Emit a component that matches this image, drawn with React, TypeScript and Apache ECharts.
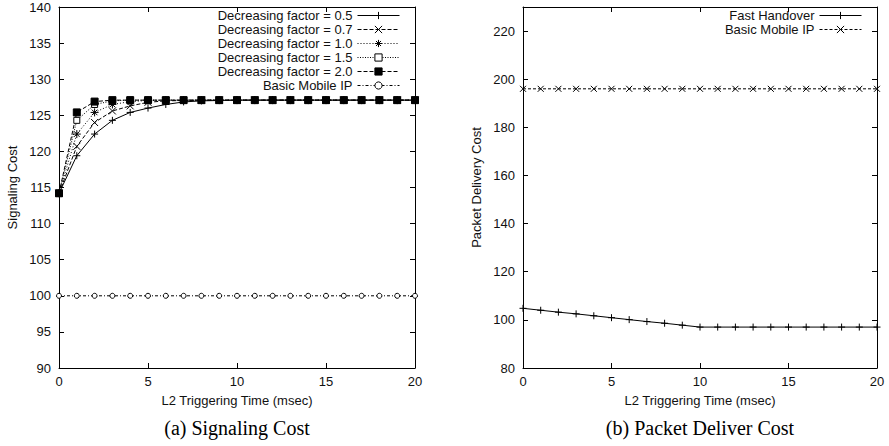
import React, { useEffect, useRef } from "react";
import * as echarts from "echarts";

// ---------- data ----------
const xValues = [0, 1, 2, 3, 4, 5, 6, 7, 8, 9, 10, 11, 12, 13, 14, 15, 16, 17, 18, 19, 20];

const factor05 = [114.2, 119.4, 122.4, 124.3, 125.4, 126.0, 126.5, 126.85, 127.0, 127.05, 127.1, 127.1, 127.1, 127.1, 127.1, 127.1, 127.1, 127.1, 127.1, 127.1, 127.1];
const factor07 = [114.2, 120.7, 124.0, 125.6, 126.3, 126.8, 127.0, 127.05, 127.1, 127.1, 127.1, 127.1, 127.1, 127.1, 127.1, 127.1, 127.1, 127.1, 127.1, 127.1, 127.1];
const factor10 = [114.2, 122.4, 125.4, 126.5, 126.9, 127.05, 127.1, 127.1, 127.1, 127.1, 127.1, 127.1, 127.1, 127.1, 127.1, 127.1, 127.1, 127.1, 127.1, 127.1, 127.1];
const factor15 = [114.2, 124.3, 126.5, 127.0, 127.1, 127.1, 127.1, 127.1, 127.1, 127.1, 127.1, 127.1, 127.1, 127.1, 127.1, 127.1, 127.1, 127.1, 127.1, 127.1, 127.1];
const factor20 = [114.2, 125.4, 126.9, 127.1, 127.1, 127.1, 127.1, 127.1, 127.1, 127.1, 127.1, 127.1, 127.1, 127.1, 127.1, 127.1, 127.1, 127.1, 127.1, 127.1, 127.1];
const basicMobileIpSignaling = [100, 100, 100, 100, 100, 100, 100, 100, 100, 100, 100, 100, 100, 100, 100, 100, 100, 100, 100, 100, 100];

const fastHandover = [104.8, 104.0, 103.2, 102.5, 101.7, 100.9, 100.1, 99.3, 98.6, 97.8, 97.0, 97.0, 97.0, 97.0, 97.0, 97.0, 97.0, 97.0, 97.0, 97.0, 97.0];
const basicMobileIpDelivery = [196, 196, 196, 196, 196, 196, 196, 196, 196, 196, 196, 196, 196, 196, 196, 196, 196, 196, 196, 196, 196];

const leftNames = [
  "Decreasing factor = 0.5",
  "Decreasing factor = 0.7",
  "Decreasing factor = 1.0",
  "Decreasing factor = 1.5",
  "Decreasing factor = 2.0",
  "Basic Mobile IP",
];
const rightNames = ["Fast Handover", "Basic Mobile IP"];

const xLabel = "L2 Triggering Time (msec)";
const leftYLabel = "Signaling Cost";
const rightYLabel = "Packet Delivery Cost";
const captionA = "(a) Signaling Cost";
const captionB = "(b) Packet Deliver Cost";

// ---------- styling ----------
const SANS = "Liberation Sans, Arial, Helvetica, sans-serif";
const SERIF = "Liberation Serif, Times New Roman, serif";
const INK = "#111";
const FS = 13;

const PLUS = "path://M0,5L10,5M5,0L5,10";
const CROSS = "path://M0,0L10,10M10,0L0,10";
const STAR = "path://M0,5L10,5M5,0L5,10M1.5,1.5L8.5,8.5M8.5,1.5L1.5,8.5";

const pairs = (ys: number[]) => xValues.map((x, i) => [x, ys[i]]);

function xAxis(gridIndex: number, position: "bottom" | "top", labels: boolean, name?: string) {
  return {
    type: "value",
    gridIndex,
    position,
    min: 0,
    max: 20,
    interval: 5,
    name,
    nameLocation: "middle",
    nameGap: 26,
    nameTextStyle: { fontFamily: SANS, fontSize: FS, color: INK, verticalAlign: "top" },
    axisLine: { show: true, onZero: false, lineStyle: { color: "#000", width: 1 } },
    axisTick: { show: true, inside: true, length: 5, lineStyle: { color: "#000" } },
    axisLabel: { show: labels, fontFamily: SANS, fontSize: FS, color: INK, margin: 7 },
    splitLine: { show: false },
  };
}

function yAxis(gridIndex: number, position: "left" | "right", labels: boolean, min: number, max: number, interval: number, name?: string, gap = 40) {
  return {
    type: "value",
    gridIndex,
    position,
    min,
    max,
    interval,
    name,
    nameLocation: "middle",
    nameGap: gap,
    nameRotate: 90,
    nameTextStyle: { fontFamily: SANS, fontSize: FS, color: INK },
    axisLine: { show: true, onZero: false, lineStyle: { color: "#000", width: 1 } },
    axisTick: { show: true, inside: true, length: 5, lineStyle: { color: "#000" } },
    axisLabel: {
      show: labels,
      fontFamily: SANS,
      fontSize: FS,
      color: INK,
      margin: 8,
      showMaxLabel: max % interval === 0,
    },
    splitLine: { show: false },
  };
}

function lineSeries(name: string, ys: number[], xi: number, yi: number, symbol: string, size: number, dash: any, fill = "#000") {
  return {
    type: "line",
    name,
    xAxisIndex: xi,
    yAxisIndex: yi,
    data: pairs(ys),
    symbol,
    symbolSize: size,
    showSymbol: true,
    lineStyle: { color: "#000", width: 1, type: dash },
    itemStyle: { color: fill, borderColor: "#000", borderWidth: 1 },
    emphasis: { disabled: true },
    z: 3,
  };
}

function legend(name: string, right: number, top: number, label: string) {
  return {
    data: [name],
    right,
    top,
    orient: "vertical",
    align: "right",
    padding: 0,
    itemGap: 0,
    itemWidth: 42,
    itemHeight: 9,
    selectedMode: false,
    formatter: () => label,
    lineStyle: { width: 1 },
    itemStyle: { borderWidth: 1 },
    textStyle: { fontFamily: SANS, fontSize: FS, lineHeight: 12, color: INK, padding: [0, 0, 0, 0] },
  };
}

export default function App() {
  const ref = useRef<HTMLDivElement>(null);
  useEffect(() => {
    if (!ref.current) return;
    const chart = echarts.init(ref.current, undefined, { renderer: "svg" });
    const leftSeriesData = [factor05, factor07, factor10, factor15, factor20, basicMobileIpSignaling];
    const leftSymbols = [PLUS, CROSS, STAR, "rect", "rect", "circle"];
    const leftSizes = [7, 7, 8, 6, 7, 5];
    const leftDash: any[] = ["solid", [4, 2], [1, 2], [1, 1.5], [4, 2], [3, 2, 1, 2]];
    const leftFill = ["#000", "#000", "#000", "#fff", "#000", "#fff"];
    const leftIds = ["f05", "f07", "f10", "f15", "f20", "bmipA"];

    const series: any[] = leftSeriesData.map((d, i) =>
      lineSeries(leftIds[i], d, 0, 0, leftSymbols[i], leftSizes[i], leftDash[i], leftFill[i])
    );
    series.push(lineSeries("fh", fastHandover, 2, 2, PLUS, 7, "solid"));
    series.push(lineSeries("bmipB", basicMobileIpDelivery, 2, 2, CROSS, 6, [3, 2]));

    const rowTops = [9, 23, 37, 51, 65, 79];
    const legends: any[] = leftIds.map((id, i) => legend(id, 889 - 400, rowTops[i], leftNames[i]));
    legends.push(legend("fh", 889 - 862, rowTops[0], rightNames[0]));
    legends.push(legend("bmipB", 889 - 862, rowTops[1], rightNames[1]));

    chart.setOption({
      animation: false,
      backgroundColor: "#fff",
      grid: [
        { left: 59, top: 7, width: 356, height: 361 },
        { left: 523, top: 7, width: 354, height: 361 },
      ],
      xAxis: [
        xAxis(0, "bottom", true, xLabel),
        xAxis(0, "top", false),
        xAxis(1, "bottom", true, xLabel),
        xAxis(1, "top", false),
      ],
      yAxis: [
        yAxis(0, "left", true, 90, 140, 5, leftYLabel, 40),
        yAxis(0, "right", false, 90, 140, 5),
        yAxis(1, "left", true, 80, 230, 20, rightYLabel, 40),
        yAxis(1, "right", false, 80, 230, 20),
      ],
      legend: legends,
      series,
      graphic: [
        {
          type: "text",
          x: 237,
          y: 428,
          style: { text: captionA, font: `20px ${SERIF}`, fill: "#000", textAlign: "center", textVerticalAlign: "middle" },
        },
        {
          type: "text",
          x: 700,
          y: 428,
          style: { text: captionB, font: `20px ${SERIF}`, fill: "#000", textAlign: "center", textVerticalAlign: "middle" },
        },
      ],
    });
    return () => chart.dispose();
  }, []);
  return (
    <div
      ref={ref}
      style={{ position: "fixed", left: 0, top: 0, width: 889, height: 446, background: "#fff" }}
    />
  );
}
